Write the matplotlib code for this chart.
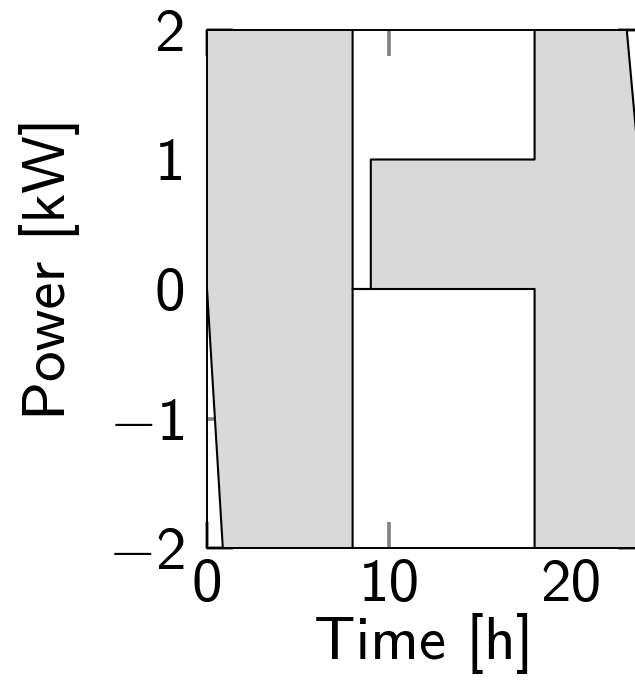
import numpy as np
import matplotlib
matplotlib.use("Agg")
import matplotlib.pyplot as plt
from matplotlib.ticker import FuncFormatter

# LaTeX-ish sans look (cmss10 ships with matplotlib), minus sign from cm math
plt.rcParams['font.family'] = ['cmss10', 'DejaVu Sans']
plt.rcParams['mathtext.fontset'] = 'cm'
plt.rcParams['font.size'] = 44

# power bounds over the day (values beyond +-2 get clipped by the axes)
t = [0, 1, 8, 8, 9, 9, 18, 18, 23, 24]
upper = [2.3, 2.3, 2.3, 0, 0, 1, 1, 2.1, 2.1, 0.55]
lower = [0, -2.3, -2.3, 0, 0, 0, 0, -2.3, -2.3, -2.3]

xticks = [0, 10, 20]
yticks = [-2, -1, 0, 1, 2]


def fmt(v, pos):
    # proper minus sign, digits stay in the sans font
    if v < 0:
        return r'$-$%d' % abs(v)
    return '%d' % v


fig = plt.figure(figsize=(6.35, 6.95), dpi=100)
ax = fig.add_axes([207/635, 147/695, 436.8/635, 518/695])

ax.fill_between(t, lower, upper, color='#d9d9d9', lw=0, zorder=2)
ax.plot(t, upper, color='k', lw=1.5, zorder=2.2)
ax.plot(t, lower, color='k', lw=1.5, zorder=2.2)

ax.set_xlim(0, 24)
ax.set_ylim(-2, 2)
ax.set_xticks(xticks)
ax.set_yticks(yticks)
ax.xaxis.set_major_formatter(FuncFormatter(fmt))
ax.yaxis.set_major_formatter(FuncFormatter(fmt))
ax.tick_params(direction='in', top=True, right=True, length=19, width=2.6,
               color='#808080')
ax.tick_params(axis='x', pad=8)
ax.tick_params(axis='y', pad=16)
for s in ax.spines.values():
    s.set_linewidth(1.4)

ax.set_xlabel('Time [h]')
ax.set_ylabel('Power [kW]')
ax.xaxis.set_label_coords(0.497, -0.125)
ax.yaxis.set_label_coords(-0.29, 0.54)

fig.savefig('out.png', dpi=100)
